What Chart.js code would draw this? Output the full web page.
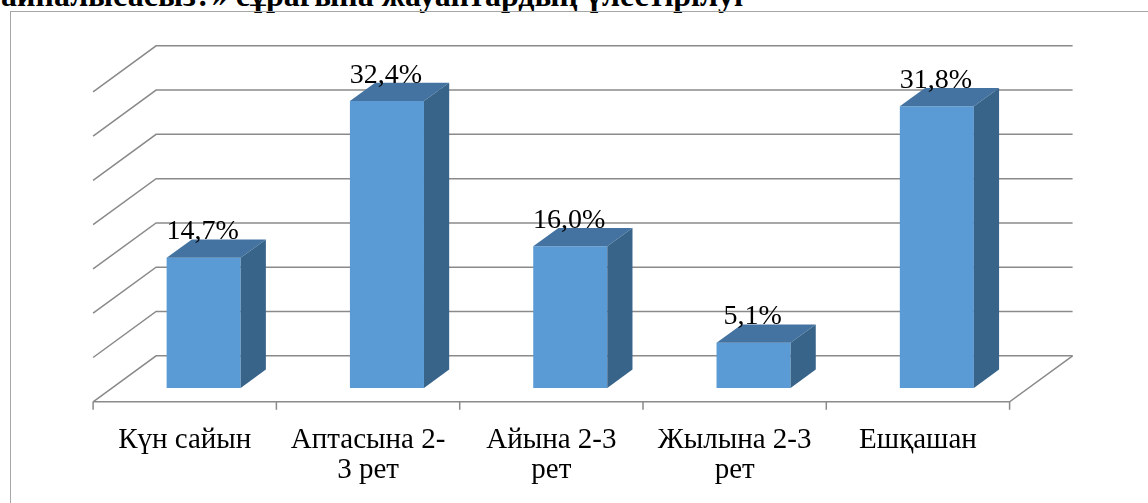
<!DOCTYPE html>
<html>
<head>
<meta charset="utf-8">
<script src="https://cdn.jsdelivr.net/npm/chart.js@4/dist/chart.umd.min.js"></script>
<style>
  html, body { margin: 0; padding: 0; background: #fff; width: 1148px; height: 503px; overflow: hidden; }
  .title { position: absolute; left: 1px; top: -21px; white-space: nowrap;
           font: bold 32px/32px "Liberation Serif", "Times New Roman", serif; color: #000; }
  .frame { position: absolute; left: 10px; top: 11px; width: 1200px; height: 600px; border: 1px solid #a6a6a6; }
  #chart { position: absolute; left: 0; top: 0; }
</style>
</head>
<body>
<div class="title">айналысасыз?» сұрағына жауаптардың үлестірілуі</div>
<div class="frame"></div>
<canvas id="chart" width="1148" height="503"></canvas>
<script>
// categories (multi-line, as wrapped in the original)
var categories = [
  ['Күн сайын'],
  ['Аптасына 2-', '3 рет'],
  ['Айына 2-3', 'рет'],
  ['Жылына 2-3', 'рет'],
  ['Ешқашан']
];
var values = [14.7, 32.4, 16.0, 5.1, 31.8];
var yMax = 35;
var yStep = 5;

var SERIF = '"Liberation Serif", "Times New Roman", serif';

// fake 3d: floor depth in px and where the bars sit in it
var DEPTH_X = 63, DEPTH_Y = 46;
var BAR_Z = 0.30;   // bar front plane, fraction of depth from the front edge
var BAR_D = 0.40;   // bar depth, fraction of total depth
var GRID = '#8a8a8a';

function fmt(v) {
  return v.toFixed(1).replace('.', ',') + '%';
}

var box3d = {
  id: 'box3d',
  beforeDatasetsDraw: function(chart) {
    var ctx = chart.ctx, a = chart.chartArea, y = chart.scales.y;
    // offsets from the bar plane to the front edge and the back wall
    var fx = -DEPTH_X * BAR_Z, fy = DEPTH_Y * BAR_Z;
    var bx = DEPTH_X * (1 - BAR_Z), by = -DEPTH_Y * (1 - BAR_Z);
    ctx.save();
    ctx.strokeStyle = GRID;
    ctx.lineWidth = 1.5;
    for (var v = y.min; v <= y.max + 1e-9; v += yStep) {
      var py = y.getPixelForValue(v);
      ctx.beginPath();
      ctx.moveTo(a.left + fx, py + fy);
      ctx.lineTo(a.left + bx, py + by);
      ctx.lineTo(a.right + bx, py + by);
      ctx.stroke();
    }
    // floor
    var p0 = y.getPixelForValue(0);
    ctx.beginPath();
    ctx.moveTo(a.left + fx, p0 + fy);
    ctx.lineTo(a.right + fx, p0 + fy);
    ctx.lineTo(a.right + bx, p0 + by);
    ctx.stroke();
    // category tick marks on the front edge
    var n = categories.length, w = (a.right - a.left) / n;
    ctx.beginPath();
    for (var i = 0; i <= n; i++) {
      var tx = a.left + fx + i * w;
      ctx.moveTo(tx, p0 + fy);
      ctx.lineTo(tx, p0 + fy + 8);
    }
    ctx.stroke();
    ctx.restore();
  },
  afterDatasetsDraw: function(chart) {
    var ctx = chart.ctx;
    var meta = chart.getDatasetMeta(0);
    var dx = DEPTH_X * BAR_D, dy = DEPTH_Y * BAR_D;
    ctx.save();
    meta.data.forEach(function(bar, i) {
      var l = bar.x - bar.width / 2, r = bar.x + bar.width / 2;
      var top = bar.y, base = bar.base;
      // top face
      ctx.fillStyle = '#4473a1';
      ctx.beginPath();
      ctx.moveTo(l, top);
      ctx.lineTo(r, top);
      ctx.lineTo(r + dx, top - dy);
      ctx.lineTo(l + dx, top - dy);
      ctx.closePath();
      ctx.fill();
      // side face
      ctx.fillStyle = '#38648a';
      ctx.beginPath();
      ctx.moveTo(r, top);
      ctx.lineTo(r + dx, top - dy);
      ctx.lineTo(r + dx, base - dy);
      ctx.lineTo(r, base);
      ctx.closePath();
      ctx.fill();
      // value label
      ctx.fillStyle = '#000';
      ctx.font = '28px ' + SERIF;
      ctx.textAlign = 'center';
      ctx.textBaseline = 'alphabetic';
      ctx.fillText(fmt(values[i]), bar.x - 1, top - dy);
    });
    ctx.restore();
  }
};

var ctx = document.getElementById('chart').getContext('2d');
var myChart = new Chart(ctx, {
  type: 'bar',
  data: {
    labels: categories,
    datasets: [{
      data: values,
      backgroundColor: '#5b9bd5',
      borderWidth: 0,
      barPercentage: 0.404,
      categoryPercentage: 1
    }]
  },
  options: {
    responsive: false,
    animation: false,
    layout: { padding: { left: 112, right: 119.5, top: 78, bottom: 0 } },
    plugins: { legend: { display: false }, title: { display: false }, tooltip: { enabled: false } },
    scales: {
      x: {
        grid: { display: false, drawTicks: false },
        border: { display: false },
        ticks: {
          color: '#000',
          font: { family: SERIF, size: 29, lineHeight: '30px' },
          padding: 37,
          labelOffset: -DEPTH_X * BAR_Z,
          maxRotation: 0,
          autoSkip: false
        },
        afterFit: function(scale) { scale.height = 115; }
      },
      y: {
        display: false,
        min: 0,
        max: yMax,
        ticks: { stepSize: yStep }
      }
    }
  },
  plugins: [box3d]
});
</script>
</body>
</html>
